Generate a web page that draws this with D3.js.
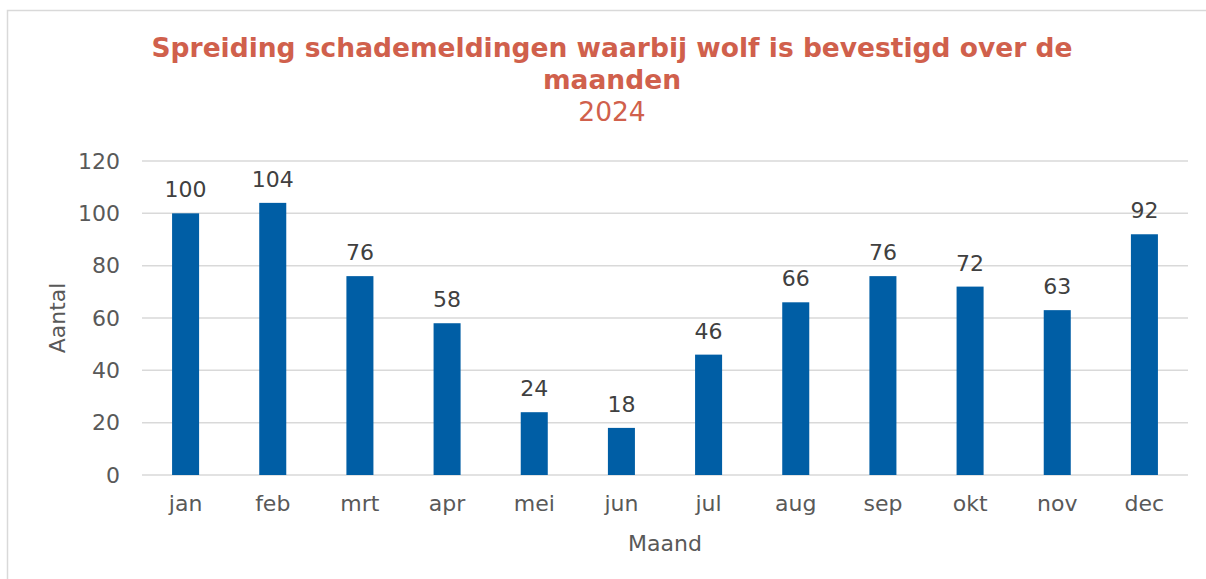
<!DOCTYPE html>
<html>
<head>
<meta charset="utf-8">
<script src="https://cdn.jsdelivr.net/npm/d3@7"></script>
<style>
  body { margin: 0; background: #fff; }
  text { font-family: "DejaVu Sans", Verdana, sans-serif; }
</style>
</head>
<body>
<svg id="chart"></svg>
<script>
// data
var months = ["jan", "feb", "mrt", "apr", "mei", "jun", "jul", "aug", "sep", "okt", "nov", "dec"];
var counts = [100, 104, 76, 58, 24, 18, 46, 66, 76, 72, 63, 92];
var yTicks = [0, 20, 40, 60, 80, 100, 120];
var titleLines = ["Spreiding schademeldingen waarbij wolf is bevestigd over de", "maanden"];
var subTitle = "2024";

var W = 1206, H = 579;
var margin = {top: 161, bottom: 104, left: 142, right: 18},
  width = W - margin.left - margin.right,
  height = H - margin.top - margin.bottom;

var svg = d3.select("#chart")
    .attr("width", W)
    .attr("height", H);

// outer chart border
svg.append("rect")
  .attr("x", 7.5).attr("y", 10.5)
  .attr("width", W + 20).attr("height", H + 20)
  .attr("fill", "none")
  .attr("stroke", "#d9d9d9")
  .attr("stroke-width", 1.5);

// title
var title = svg.append("text")
  .attr("text-anchor", "middle")
  .attr("fill", "#d0604c");
title.selectAll("tspan")
  .data(titleLines)
  .enter().append("tspan")
    .attr("x", 612)
    .attr("y", function(d, i) { return 57 + i * 32; })
    .style("font-size", "26.5px")
    .style("font-weight", "bold")
    .text(function(d) { return d; });
title.append("tspan")
  .attr("x", 612)
  .attr("y", 121)
  .style("font-size", "26.5px")
  .text(subTitle);

var g = svg.append("g")
  .attr("transform", "translate(" + margin.left + "," + margin.top + ")");

var x = d3.scaleBand()
  .domain(months)
  .range([0, width])
  .paddingInner(0.69)
  .paddingOuter(0.345);

var y = d3.scaleLinear()
  .domain([0, 120])
  .range([height, 0]);

// gridlines
g.append("g")
  .selectAll("line")
  .data(yTicks)
  .enter().append("line")
    .attr("x1", 0).attr("x2", width)
    .attr("y1", function(d) { return y(d); })
    .attr("y2", function(d) { return y(d); })
    .attr("stroke", "#d9d9d9")
    .attr("stroke-width", 1.5);

// y axis labels
var yAxis = d3.axisLeft(y).tickValues(yTicks).tickSize(0).tickPadding(22);
g.append("g")
  .call(yAxis)
  .call(function(a) { a.select(".domain").remove(); })
  .selectAll("text")
    .attr("fill", "#595959")
    .style("font-size", "22px")
    .style("font-family", "DejaVu Sans, sans-serif");

// x axis labels
var xAxis = d3.axisBottom(x).tickSize(0).tickPadding(20);
g.append("g")
  .attr("transform", "translate(0," + height + ")")
  .call(xAxis)
  .call(function(a) { a.select(".domain").remove(); })
  .selectAll("text")
    .attr("fill", "#595959")
    .style("font-size", "22px")
    .style("font-family", "DejaVu Sans, sans-serif");

// bars
g.selectAll(".bar")
  .data(counts)
  .enter().append("rect")
    .attr("class", "bar")
    .attr("x", function(d, i) { return x(months[i]); })
    .attr("y", function(d) { return y(d); })
    .attr("width", x.bandwidth())
    .attr("height", function(d) { return height - y(d); })
    .attr("fill", "#005ea5");

// value labels
g.selectAll(".label")
  .data(counts)
  .enter().append("text")
    .attr("class", "label")
    .attr("x", function(d, i) { return x(months[i]) + x.bandwidth() / 2; })
    .attr("y", function(d) { return y(d) - 16; })
    .attr("text-anchor", "middle")
    .attr("fill", "#404040")
    .style("font-size", "22px")
    .text(function(d) { return d; });

// axis titles
svg.append("text")
  .attr("transform", "translate(65," + (margin.top + height / 2) + ") rotate(-90)")
  .attr("text-anchor", "middle")
  .attr("fill", "#595959")
  .style("font-size", "22px")
  .text("Aantal");

svg.append("text")
  .attr("x", margin.left + width / 2)
  .attr("y", 551)
  .attr("text-anchor", "middle")
  .attr("fill", "#595959")
  .style("font-size", "22px")
  .text("Maand");
</script>
</body>
</html>
